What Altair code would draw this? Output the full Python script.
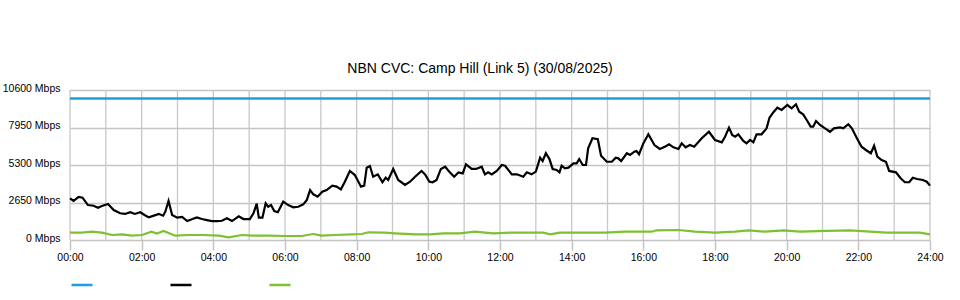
import altair as alt
import pandas as pd

# ---- data ----
cap_t = [0, 24]
cap_v = [10000, 10000]

blk_t = [0, 0.10, 0.24, 0.35, 0.50, 0.66, 0.78, 0.89, 1.06, 1.22, 1.40, 1.54, 1.68, 1.81, 1.96,
         2.08, 2.20, 2.34, 2.48, 2.60, 2.66, 2.75, 2.85, 2.99, 3.13, 3.27, 3.42, 3.54, 3.68, 3.82,
         3.96, 4.10, 4.24, 4.38, 4.52, 4.71, 4.84, 5.02, 5.12, 5.21, 5.27, 5.37, 5.46, 5.53, 5.61,
         5.70, 5.80, 5.95, 6.09, 6.23, 6.37, 6.51, 6.61, 6.70, 6.79, 6.91, 7.04, 7.16, 7.32, 7.44,
         7.56, 7.67, 7.81, 7.95, 8.12, 8.21, 8.28, 8.37, 8.46, 8.59, 8.72, 8.81, 8.88, 9.02, 9.16,
         9.35, 9.49, 9.63, 9.81, 9.91, 10.03, 10.12, 10.23, 10.35, 10.47, 10.60, 10.72, 10.84,
         10.96, 11.05, 11.21, 11.33, 11.49, 11.58, 11.67, 11.77, 11.91, 12.05, 12.14, 12.33, 12.47,
         12.65, 12.75, 12.88, 13.00, 13.12, 13.19, 13.28, 13.38, 13.47, 13.58, 13.66, 13.72, 13.81,
         13.91, 14.05, 14.14, 14.21, 14.31, 14.40, 14.46, 14.58, 14.73, 14.82, 14.98, 15.12, 15.23,
         15.30, 15.38, 15.54, 15.63, 15.75, 15.81, 15.88, 16.00, 16.14, 16.31, 16.46, 16.60, 16.72,
         16.84, 16.98, 17.07, 17.18, 17.30, 17.42, 17.63, 17.83, 18.00, 18.19, 18.28, 18.39, 18.48,
         18.56, 18.65, 18.79, 18.88, 18.98, 19.07, 19.16, 19.30, 19.44, 19.52, 19.63, 19.74, 19.86,
         20.02, 20.14, 20.26, 20.35, 20.46, 20.56, 20.67, 20.74, 20.82, 20.93, 21.07, 21.21, 21.32,
         21.49, 21.58, 21.72, 21.82, 21.96, 22.09, 22.21, 22.35, 22.44, 22.53, 22.65, 22.77, 22.86,
         23.05, 23.18, 23.30, 23.42, 23.52, 23.64, 23.80, 23.91, 24.00]
blk_v = [2950, 2760, 3040, 2990, 2470, 2420, 2280, 2400, 2540, 2120, 1890, 1840, 1960, 1840, 1960,
         1770, 1600, 1720, 1840, 1720, 2000, 2760, 1770, 1580, 1630, 1340, 1480, 1600, 1480, 1410,
         1340, 1340, 1360, 1530, 1340, 1670, 1480, 1480, 1890, 2570, 1580, 1580, 2590, 2350, 2470,
         2050, 1960, 2710, 2470, 2310, 2350, 2520, 2830, 3530, 3230, 3060, 3410, 3530, 3840, 3770,
         3580, 4120, 4880, 4590, 3770, 3840, 5110, 5230, 4470, 4640, 4080, 4400, 4240, 5020, 4240,
         3890, 4120, 4470, 4880, 4640, 4120, 4080, 4240, 5020, 5180, 4780, 4470, 4780,
         4710, 5350, 5020, 5020, 5180, 4640, 4780, 4640, 4880, 5300, 5250, 4640, 4640,
         4470, 4780, 4640, 4830, 5820, 5580, 6130, 5720, 5020, 4950, 4780, 5250, 5070,
         5110, 5420, 5420, 5720, 5300, 5300, 6480, 7190, 7120, 5960, 5530, 5530, 5820,
         5770, 5580, 6130, 6010, 6240, 6290, 6060, 6830, 7470, 6710, 6430, 6590, 6760,
         6550, 6430, 6830, 6550, 6710, 6590, 7190, 7650, 7070, 6900, 7300, 7940, 7420,
         7300, 7470, 7000, 6830, 7070, 6900, 7470, 7470, 7890, 8640, 9030, 9350, 9190,
         9540, 9310, 9590, 9070, 8880, 8480, 8010, 8010, 8410, 8130, 7890, 7650, 7890,
         7960, 7890, 8180, 7890, 7190, 6590, 6360, 6130, 6660, 5890, 5650, 5530, 4880,
         4780, 4360, 4080, 4080, 4400, 4310, 4240, 4120, 3840]

grn_t = [0, 0.33, 0.61, 0.89, 1.17, 1.45, 1.73, 2.01, 2.27, 2.43, 2.61, 2.94, 3.31, 3.68, 4.15,
         4.43, 4.80, 5.07, 5.53, 6.00, 6.47, 6.79, 7.02, 7.39, 7.86, 8.14, 8.33, 8.79, 9.07, 9.63,
         10.05, 10.42, 10.88, 11.30, 11.81, 12.28, 12.74, 13.21, 13.40, 13.67, 14.51, 14.93, 15.49,
         16.23, 16.37, 16.98, 17.44, 18.00, 18.56, 18.93, 19.40, 19.91, 20.37, 21.12, 21.77, 22.33,
         22.79, 23.25, 23.72, 24.00]
grn_v = [516, 516, 587, 516, 353, 403, 304, 353, 587, 450, 636, 304, 353, 353, 304,
         191, 353, 304, 304, 283, 283, 424, 304, 353, 403, 424, 544, 516, 473, 403,
         403, 473, 473, 587, 473, 516, 516, 516, 403, 516, 516, 516, 587,
         587, 686, 707, 587, 516, 587, 686, 587, 686, 587, 650, 686, 587,
         516, 530, 516, 403]

series = ["Capacity", "Traffic", "Other"]
colors = ["#1a9fe0", "#000000", "#7cc22e"]

y_ticks = [0, 2650, 5300, 7950, 10600]
x_label_hours = list(range(0, 25, 2))
grid_hours = list(range(0, 25))

title_text = "NBN CVC: Camp Hill (Link 5) (30/08/2025)"

# ---- tables ----
df = pd.concat([
    pd.DataFrame({"t": cap_t, "v": cap_v, "s": series[0]}),
    pd.DataFrame({"t": blk_t, "v": blk_v, "s": series[1]}),
    pd.DataFrame({"t": grn_t, "v": grn_v, "s": series[2]}),
], ignore_index=True)
grid_df = pd.DataFrame({"t": grid_hours})

FONT = "Liberation Sans"
xscale = alt.Scale(domain=[0, 24], nice=False, zero=False)
yscale = alt.Scale(domain=[0, 10600], nice=False)

x_axis = alt.Axis(values=x_label_hours, grid=False, domain=False, ticks=True, tickSize=10,
                  tickColor="#c4c4c4", tickWidth=1.5, labelPadding=2, title=None,
                  labelFlush=False, labelOverlap=False,
                  labelExpr="(datum.value < 10 ? '0' : '') + datum.value + ':00'",
                  labelFontSize=10.5, labelFont=FONT, labelColor="#000000")
y_axis = alt.Axis(values=y_ticks, grid=True, gridColor="#c4c4c4", gridWidth=1.5,
                  domain=False, ticks=False, labelPadding=10, title=None,
                  labelFlush=False, labelOverlap=False, labelOffset=-2,
                  labelExpr="datum.value + ' Mbps'", labelFontSize=10.5, labelFont=FONT,
                  labelColor="#000000")

color = alt.Color("s:N", scale=alt.Scale(domain=series, range=colors),
                  legend=alt.Legend(orient="none", legendX=0, legendY=183, direction="horizontal",
                                    symbolType="stroke", symbolSize=441, symbolStrokeWidth=2.5,
                                    labelExpr="''", labelOffset=0, columnPadding=67,
                                    title=None, padding=0))

grid = alt.Chart(grid_df).mark_rule(color="#c8c8c8", strokeWidth=1.3).encode(
    x=alt.X("t:Q", scale=xscale, axis=x_axis),
    y=alt.value(0), y2=alt.value(150),
)

def layer(name, width):
    return alt.Chart(df[df.s == name]).mark_line(strokeWidth=width, interpolate="linear").encode(
        x=alt.X("t:Q", scale=xscale, axis=x_axis),
        y=alt.Y("v:Q", scale=yscale, axis=y_axis),
        color=color,
        order="t:Q",
    )

chart = alt.layer(
    grid,
    layer("Capacity", 2.5),
    layer("Other", 2.2),
    layer("Traffic", 2.2),
).properties(
    width=860, height=150,
    padding={"left": 70, "top": 90, "right": 30, "bottom": 60},
    autosize=alt.AutoSizeParams(type="none"),
    title=alt.TitleParams(title_text, fontSize=14, font=FONT, fontWeight="normal",
                          color="#000000", offset=7, dx=-20, anchor="middle"),
    background="#ffffff",
).configure_view(stroke=None)

chart.save("out.html", embed_options={"renderer": "svg", "actions": False})
